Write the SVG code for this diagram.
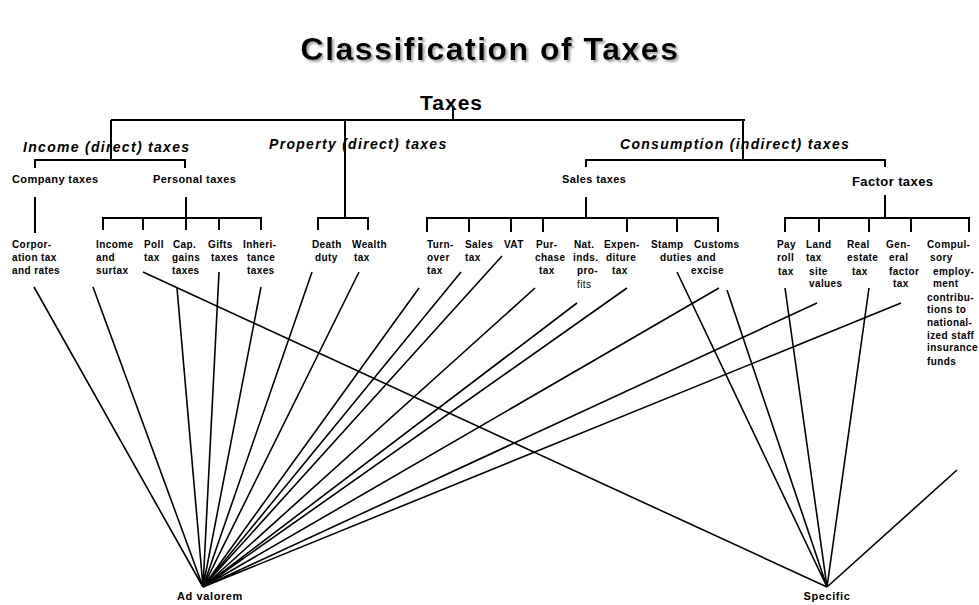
<svg xmlns="http://www.w3.org/2000/svg" width="979" height="605" viewBox="0 0 979 605">
  <defs>
    <!-- soft grey shadow under the heading -->
    <filter id="drop" x="-5%" y="-30%" width="110%" height="160%">
      <feDropShadow dx="2" dy="2" stdDeviation="0.8" flood-color="#9a9a9a" flood-opacity="0.9"/>
    </filter>
  </defs>
  <style>
    text { font-family: "Liberation Sans", Arial, sans-serif; font-weight: bold; fill: #000; }
    .title { font-size: 32px; letter-spacing: 1.5px; }
    .root { font-size: 21px; letter-spacing: 1px; }
    .cat { font-size: 14px; font-style: italic; letter-spacing: 1.3px; }
    .sub { font-size: 11px; letter-spacing: 0.4px; }
    .sub2 { font-size: 13px; letter-spacing: 0.4px; }
    .leaf { font-size: 10px; letter-spacing: 0.4px; }
    .light { font-weight: normal; }
    .base { font-size: 11px; letter-spacing: 0.6px; text-anchor: middle; }
    .tree { fill: none; stroke: #000; stroke-width: 2; }
    .fan { fill: none; stroke: #000; stroke-width: 1.6; }
  </style>

  <g id="title">
    <text class="title" x="490" y="60" text-anchor="middle" filter="url(#drop)">Classification of Taxes</text>
  </g>

  <!-- tree structure -->
  <g id="connectors">
    <g class="tree">
      <path d="M453 108 V120 M111 120 H745"/>
      <path d="M111 120 V160 M345 120 V218 M743 120 V160"/>
      <!-- income branch -->
      <path d="M35 168 V160 H185 V168"/>
      <path d="M35 197 V233 M186 197 V230"/>
      <path d="M103 230 V218 H261 V230 M143 218 V230 M219 218 V230"/>
      <!-- property branch -->
      <path d="M318 230 V218 H368 V230"/>
      <!-- consumption branch -->
      <path d="M586 167 V160 H885 V167"/>
      <path d="M586 197 V218 M885 195 V218"/>
      <path d="M427 232 V218 H718 V232 M469 218 V232 M511 218 V232 M543 218 V232 M627 218 V232 M677 218 V232"/>
      <path d="M785 232 V218 H969 V232 M819 218 V232 M869 218 V232 M911 218 V232"/>
    </g>
    <!-- ad valorem fan -->
    <g class="fan">
      <path d="M203 587 L34 287 M203 587 L93 287 M203 587 L177 288 M203 587 L219 272 M203 587 L261 287"/>
      <path d="M203 587 L312 272 M203 587 L359 272 M203 587 L419 288 M203 587 L461 272 M203 587 L502 256"/>
      <path d="M203 587 L535 288 M203 587 L577 303 M203 587 L627 288 M203 587 L719 288"/>
      <path d="M203 587 L817 303 M203 587 L901 303"/>
    </g>
    <!-- specific fan -->
    <g class="fan">
      <path d="M827 587 L143 272 M827 587 L677 272 M827 587 L727 290"/>
      <path d="M827 587 L785 288 M827 587 L869 288 M827 587 L957 470"/>
    </g>
  </g>

  <g id="taxes"><text class="root" x="420" y="110">Taxes</text></g>
  <g id="income-taxes"><text class="cat" x="23" y="152">Income (direct) taxes</text></g>
  <g id="property-taxes"><text class="cat" x="269" y="149">Property (direct) taxes</text></g>
  <g id="consumption-taxes"><text class="cat" x="620" y="149">Consumption (indirect) taxes</text></g>

  <g id="company-taxes"><text class="sub" x="12" y="183">Company taxes</text></g>
  <g id="personal-taxes"><text class="sub" x="153" y="183">Personal taxes</text></g>
  <g id="sales-taxes"><text class="sub" x="562" y="183">Sales taxes</text></g>
  <g id="factor-taxes"><text class="sub2" x="852" y="186">Factor taxes</text></g>

  <g id="corporation-tax">
    <text class="leaf" x="12" y="248">Corpor-</text>
    <text class="leaf" x="12" y="261">ation tax</text>
    <text class="leaf" x="12" y="274">and rates</text>
  </g>
  <g id="income-surtax">
    <text class="leaf" x="96" y="248">Income</text>
    <text class="leaf" x="96" y="261">and</text>
    <text class="leaf" x="96" y="274">surtax</text>
  </g>
  <g id="poll-tax">
    <text class="leaf" x="144" y="248">Poll</text>
    <text class="leaf" x="144" y="261">tax</text>
  </g>
  <g id="cap-gains">
    <text class="leaf" x="173" y="248">Cap.</text>
    <text class="leaf" x="172" y="261">gains</text>
    <text class="leaf" x="172" y="274">taxes</text>
  </g>
  <g id="gifts">
    <text class="leaf" x="208" y="248">Gifts</text>
    <text class="leaf" x="211" y="261">taxes</text>
  </g>
  <g id="inheritance">
    <text class="leaf" x="243" y="248">Inheri-</text>
    <text class="leaf" x="247" y="261">tance</text>
    <text class="leaf" x="247" y="274">taxes</text>
  </g>
  <g id="death-duty">
    <text class="leaf" x="312" y="248">Death</text>
    <text class="leaf" x="315" y="261">duty</text>
  </g>
  <g id="wealth-tax">
    <text class="leaf" x="352" y="248">Wealth</text>
    <text class="leaf" x="354" y="261">tax</text>
  </g>
  <g id="turnover-tax">
    <text class="leaf" x="427" y="248">Turn-</text>
    <text class="leaf" x="427" y="261">over</text>
    <text class="leaf" x="427" y="274">tax</text>
  </g>
  <g id="sales-tax">
    <text class="leaf" x="465" y="248">Sales</text>
    <text class="leaf" x="465" y="261">tax</text>
  </g>
  <g id="vat"><text class="leaf" x="504" y="248">VAT</text></g>
  <g id="purchase-tax">
    <text class="leaf" x="536" y="248">Pur-</text>
    <text class="leaf" x="535" y="261">chase</text>
    <text class="leaf" x="539" y="274">tax</text>
  </g>
  <g id="nat-inds-profits">
    <text class="leaf" x="574" y="248">Nat.</text>
    <text class="leaf" x="573" y="261">inds.</text>
    <text class="leaf" x="577" y="274">pro-</text>
    <text class="leaf light" x="577" y="288">fits</text>
  </g>
  <g id="expenditure-tax">
    <text class="leaf" x="604" y="248">Expen-</text>
    <text class="leaf" x="606" y="261">diture</text>
    <text class="leaf" x="612" y="274">tax</text>
  </g>
  <g id="stamp-duties">
    <text class="leaf" x="651" y="248">Stamp</text>
    <text class="leaf" x="660" y="261">duties</text>
  </g>
  <g id="customs-excise">
    <text class="leaf" x="694" y="248">Customs</text>
    <text class="leaf" x="697" y="261">and</text>
    <text class="leaf" x="691" y="274">excise</text>
  </g>
  <g id="payroll-tax">
    <text class="leaf" x="777" y="248">Pay</text>
    <text class="leaf" x="777" y="261">roll</text>
    <text class="leaf" x="778" y="275">tax</text>
  </g>
  <g id="land-tax">
    <text class="leaf" x="806" y="248">Land</text>
    <text class="leaf" x="806" y="261">tax</text>
    <text class="leaf" x="809" y="275">site</text>
    <text class="leaf" x="809" y="287">values</text>
  </g>
  <g id="real-estate-tax">
    <text class="leaf" x="847" y="248">Real</text>
    <text class="leaf" x="847" y="261">estate</text>
    <text class="leaf" x="852" y="275">tax</text>
  </g>
  <g id="general-factor-tax">
    <text class="leaf" x="886" y="248">Gen-</text>
    <text class="leaf" x="889" y="261">eral</text>
    <text class="leaf" x="889" y="275">factor</text>
    <text class="leaf" x="893" y="287">tax</text>
  </g>
  <g id="compulsory-contributions">
    <text class="leaf" x="927" y="248">Compul-</text>
    <text class="leaf" x="930" y="261">sory</text>
    <text class="leaf" x="933" y="275">employ-</text>
    <text class="leaf" x="933" y="287">ment</text>
    <text class="leaf" x="927" y="301">contribu-</text>
    <text class="leaf" x="927" y="313">tions to</text>
    <text class="leaf" x="927" y="326">national-</text>
    <text class="leaf" x="927" y="339">ized staff</text>
    <text class="leaf" x="927" y="351">insurance</text>
    <text class="leaf" x="927" y="365">funds</text>
  </g>

  <g id="ad-valorem"><text class="base" x="210" y="600">Ad valorem</text></g>
  <g id="specific"><text class="base" x="827" y="600">Specific</text></g>
</svg>
